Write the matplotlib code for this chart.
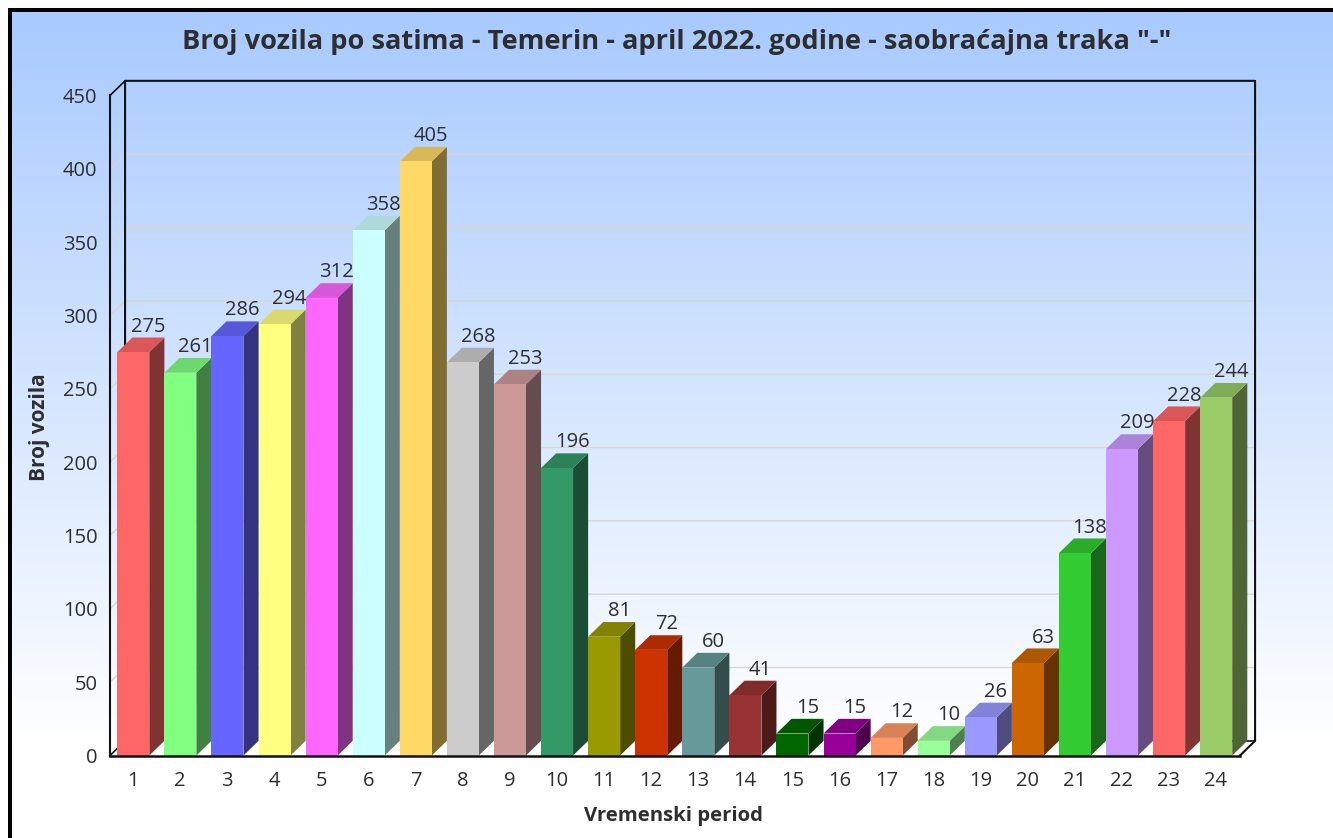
import numpy as np
import matplotlib
matplotlib.use("Agg")
import matplotlib.pyplot as plt
from matplotlib.colors import LinearSegmentedColormap, to_rgb
from matplotlib.patches import Polygon, Rectangle

plt.rcParams['font.family'] = ['Open Sans', 'DejaVu Sans']

periods = list(range(1, 25))
vehicles = [275, 261, 286, 294, 312, 358, 405, 268, 253, 196, 81, 72,
            60, 41, 15, 15, 12, 10, 26, 63, 138, 209, 228, 244]
bar_colors = ['#FF6666', '#80FF80', '#6666FF', '#FFFF80', '#FF66FF', '#CCFFFF',
              '#FFD966', '#CCCCCC', '#CC9999', '#339966', '#999900', '#CC3300',
              '#669999', '#993333', '#006600', '#990099', '#FF9966', '#99FF99',
              '#9999FF', '#CC6600', '#33CC33', '#CC99FF', '#FF6666', '#99CC66']
y_ticks = list(range(0, 451, 50))

W, H = 1333, 838
TEXT = '#2E2E2E'
# 3D depth of the chart, in data units
DX = 0.32
DY = 10


def shade(color, factor):
    return tuple(c * factor for c in to_rgb(color))


fig = plt.figure(figsize=(W / 100, H / 100), dpi=100, facecolor='white')

# page background: gradient panel with black frame on top and left
bg = fig.add_axes([0, 0, 1, 1], zorder=0)
bg.set_xlim(0, W)
bg.set_ylim(H, 0)
bg.axis('off')
cmap = LinearSegmentedColormap.from_list('panel', ['#A8CAFF', '#FFFFFF'])
bg.imshow(np.linspace(0, 1, 256).reshape(-1, 1), cmap=cmap, aspect='auto',
          extent=(10, W, 745, 12), zorder=1)
bg.set_xlim(0, W)
bg.set_ylim(H, 0)
bg.add_patch(Rectangle((8, 8), W - 8, 4, color='black', lw=0, zorder=3))
bg.add_patch(Rectangle((8, 8), 4, H - 8, color='black', lw=0, zorder=3))

# plot axes cover the front plane of the 3D box
ax = fig.add_axes([110 / W, 1 - 755.5 / H, 1130 / W, 660 / H], zorder=1)
ax.patch.set_alpha(0)
ax.set_xlim(0, 24)
ax.set_ylim(0, 450)
for spine in ax.spines.values():
    spine.set_visible(False)

# grid on back wall and left wall
for v in y_ticks[1:-1]:
    ax.plot([0, DX, 24 + DX], [v, v + DY, v + DY], color='#D9D5CC', lw=1.0,
            clip_on=False, zorder=1)

# box outline
ax.plot([DX, DX, 24 + DX, 24 + DX, 24], [DY, 450 + DY, 450 + DY, DY, 0],
        color='#111111', lw=1.5, clip_on=False, zorder=2)
ax.plot([0, DX], [450, 450 + DY], color='#111111', lw=1.2, clip_on=False, zorder=2)
ax.plot([0, DX], [0, DY], color='#111111', lw=1.2, clip_on=False, zorder=2)
ax.plot([24 - 0.15, 24 + DX], [DY, DY], color='#111111', lw=1.2, clip_on=False, zorder=2)

# bars
bar_w = 0.68
lefts = np.arange(24) + 0.155
ax.bar(lefts, vehicles, width=bar_w, align='edge', color=bar_colors, lw=0, zorder=4)
for left, val, col in zip(lefts, vehicles, bar_colors):
    right = left + bar_w
    ax.add_patch(Polygon([(right, 0), (right + DX, DY), (right + DX, val + DY), (right, val)],
                         closed=True, fc=shade(col, 0.5), ec='none', clip_on=False, zorder=3))
    ax.add_patch(Polygon([(left, val), (left + DX, val + DY), (right + DX, val + DY), (right, val)],
                         closed=True, fc=shade(col, 0.85), ec='none', clip_on=False, zorder=3))
    ax.text(right - 0.02, val + DY + 0.6, str(val), ha='center', va='bottom', fontsize=14.5,
            color=TEXT, zorder=6)

# front axis lines
ax.plot([0, 0], [0, 450], color='#111111', lw=1.5, clip_on=False, zorder=5)
ax.plot([0, 24], [0, 0], color='#111111', lw=1.8, clip_on=False, zorder=5)

ax.set_xticks(np.arange(24) + 0.49, [str(p) for p in periods])
ax.set_yticks(y_ticks, [str(v) for v in y_ticks])
ax.tick_params(axis='both', length=0, labelsize=14.5, labelcolor=TEXT)
ax.tick_params(axis='x', pad=11)
ax.tick_params(axis='y', pad=9)

fig.text(676.5 / W, 1 - 42 / H, 'Broj vozila po satima - Temerin - april 2022. godine - saobraćajna traka "-"',
         ha='center', va='center', fontsize=19.6, fontweight='bold', color=TEXT)
fig.text(39 / W, 1 - 427 / H, 'Broj vozila', rotation=90, ha='center', va='center',
         fontsize=15, fontweight='bold', color=TEXT)
fig.text(674 / W, 1 - 816 / H, 'Vremenski period', ha='center', va='center',
         fontsize=14.6, fontweight='bold', color=TEXT)

fig.savefig('out.png', dpi=100)
